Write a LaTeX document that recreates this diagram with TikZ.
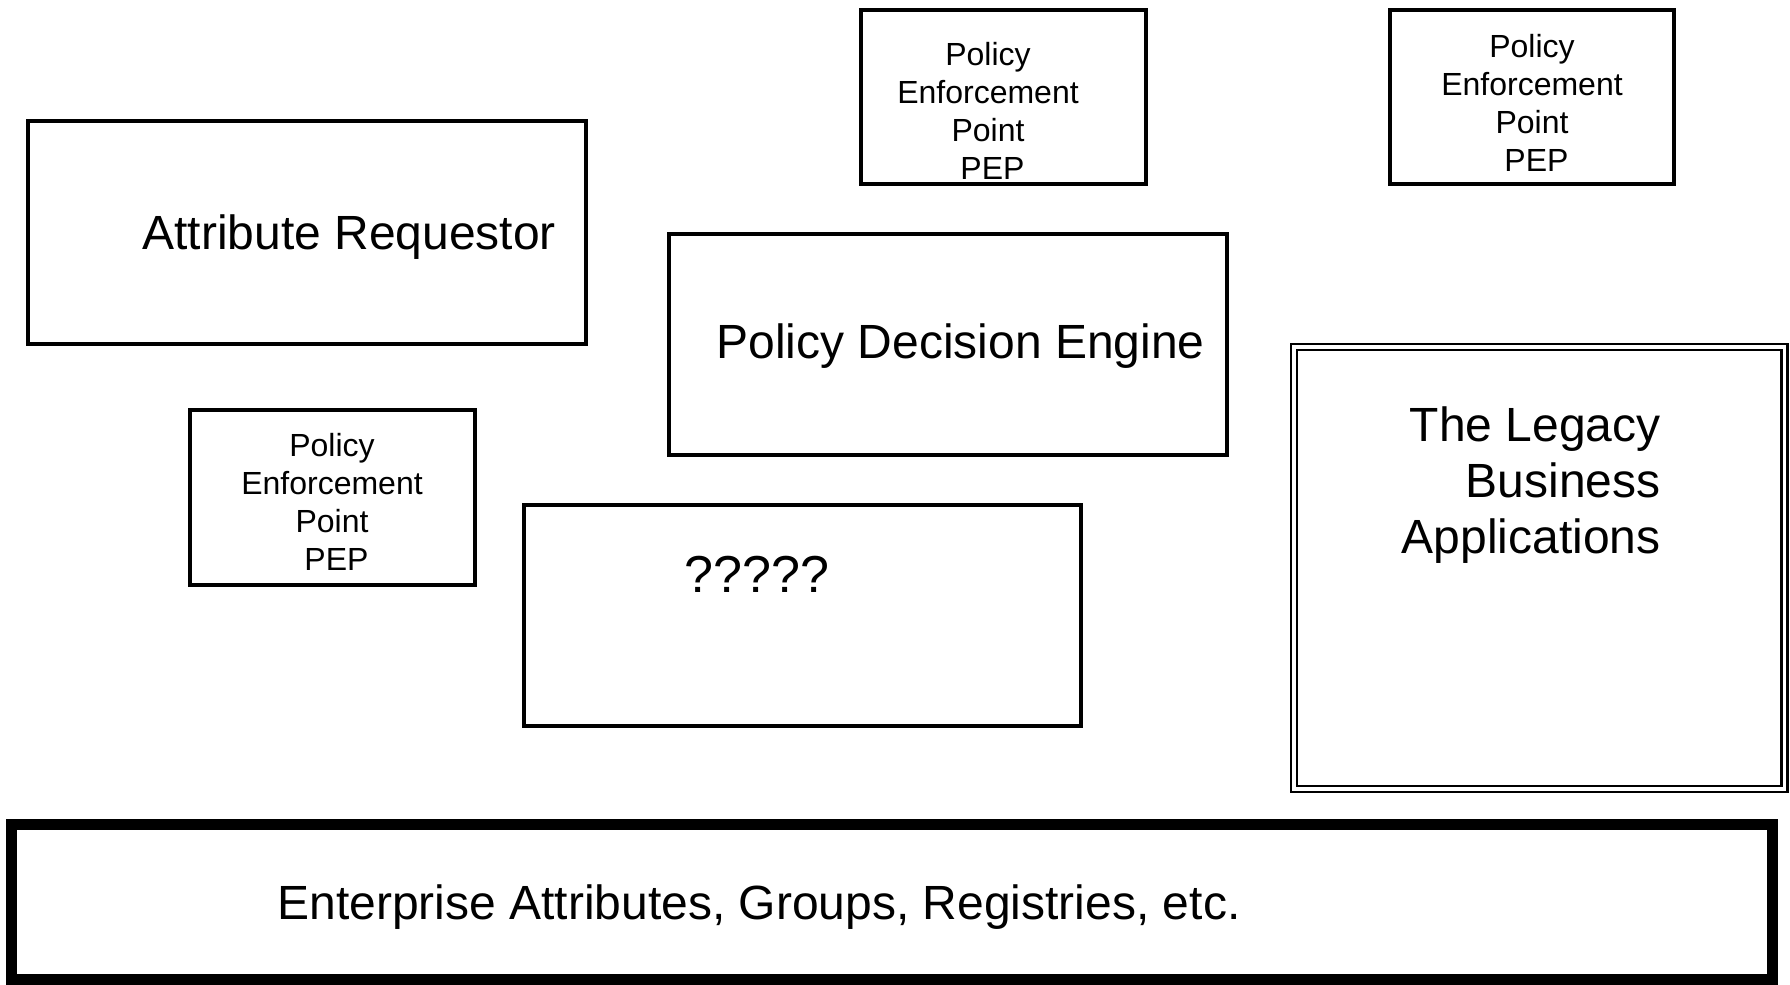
\documentclass[tikz,border=0pt]{standalone}
\usepackage{fontspec}
\setmainfont{Liberation Sans}
\begin{document}
\begin{tikzpicture}[x=0.5pt,y=-0.5pt,
    every node/.style={inner sep=0pt},
    box/.style={draw=black, line width=2pt},
    pep/.style={align=center, anchor=north, font=\fontsize{16}{19}\selectfont},
    big/.style={font=\fontsize{24}{28}\selectfont}]
  \useasboundingbox (0,0) rectangle (1790,985);
  % requestor and its PEP
  \draw [box] (28,121) rectangle (586,344);
  \node [big, anchor=base west] (req) at (142,249) {Attribute Requestor};
  \draw [box] (190,410) rectangle (475,585);
  \node [pep] (pepleft) at (332,433) {Policy\\Enforcement\\Point\\\ PEP};
  % decision engine and the unknown box
  \draw [box] (669,234) rectangle (1227,455);
  \node [big, anchor=base west] (pde) at (716,358) {Policy Decision Engine};
  \draw [box] (524,505) rectangle (1081,726);
  \node [font=\fontsize{26}{30}\selectfont, anchor=base west] (unknown) at (684,592) {?????};
  % top PEPs
  \draw [box] (861,10) rectangle (1146,184);
  \node [pep] (pepmid) at (988,42) {Policy\\Enforcement\\Point\\\ PEP};
  \draw [box] (1390,10) rectangle (1674,184);
  \node [pep] (pepright) at (1532,34) {Policy\\Enforcement\\Point\\\ PEP};
  % legacy apps
  \draw [line width=1.1pt, double, double distance=1.9pt] (1294,347) rectangle (1784.5,789);
  \node [big, align=right, anchor=north east] (legacy) at (1661,406) {The Legacy\\Business\\Applications};
  % enterprise layer
  \draw [line width=5.5pt] (11.5,824.5) rectangle (1772.5,979.5);
  \node [big, anchor=base west] (ent) at (277,919) {Enterprise Attributes, Groups, Registries, etc.};
\end{tikzpicture}
\end{document}
